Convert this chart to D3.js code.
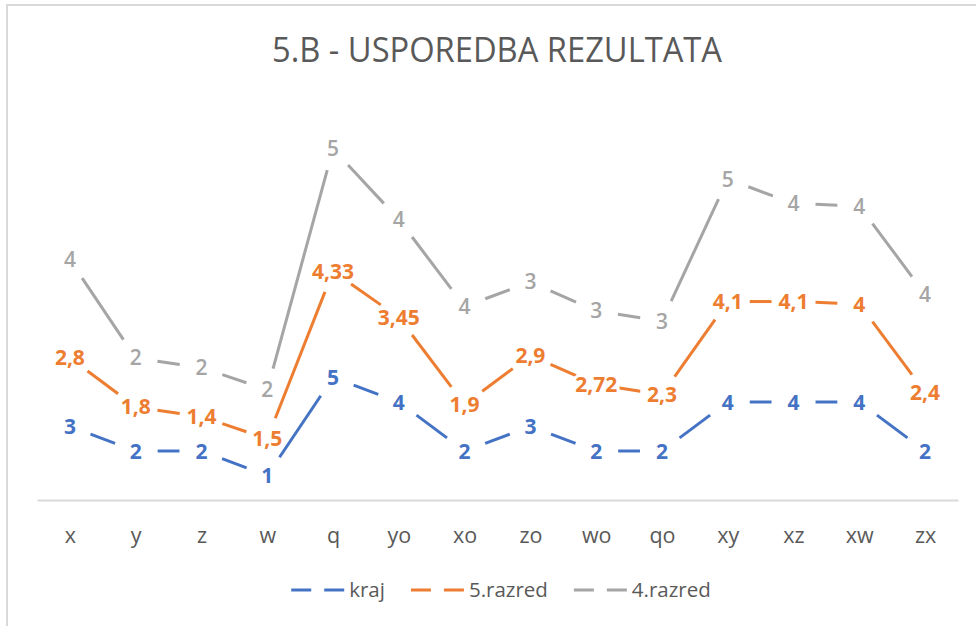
<!DOCTYPE html>
<html lang="hr">
<head>
  <meta charset="UTF-8"/>
  <title>5.B - usporedba rezultata</title>
  <script src="https://d3js.org/d3.v7.min.js"></script>
  <style>
    body { margin: 0; background: #fff; }
    svg text { font-family: "Open Sans", "Noto Sans", sans-serif; }
  </style>
</head>
<body>
<script>

var w = 976;
var h = 626;

// categories and series (stacked line chart, values as shown in labels)
var categories = ["x", "y", "z", "w", "q", "yo", "xo", "zo", "wo", "qo", "xy", "xz", "xw", "zx"];
var kraj     = [3, 2, 2, 1, 5, 4, 2, 3, 2, 2, 4, 4, 4, 2];
var razred5  = [2.8, 1.8, 1.4, 1.5, 4.33, 3.45, 1.9, 2.9, 2.72, 2.3, 4.1, 4.1, 4, 2.4];
var razred4  = [4, 2, 2, 2, 5, 4, 4, 3, 3, 3, 5, 4, 4, 4];
var seriesNames = ["kraj", "5.razred", "4.razred"];
var yMax = 16;

var colors = ["#4472C4", "#ED7D31", "#A5A5A5"];
var labelWeights = ["bold", "bold", "600"];

var svg = d3.select("body")
            .append("svg")
            .attr("width", w)
            .attr("height", h);

// chart border (cropped on right and bottom)
svg.append("rect")
   .attr("x", 7)
   .attr("y", 5)
   .attr("width", 1100)
   .attr("height", 800)
   .attr("fill", "#fff")
   .attr("stroke", "#d9d9d9")
   .attr("stroke-width", 2);

svg.append("text")
   .attr("x", 497)
   .attr("y", 62)
   .attr("text-anchor", "middle")
   .attr("font-size", 34)
   .attr("fill", "#595959")
   .attr("textLength", 450)
   .attr("lengthAdjust", "spacingAndGlyphs")
   .text("5.B - USPOREDBA REZULTATA");

var x = d3.scalePoint()
          .domain(categories)
          .range([37, 958])
          .padding(0.5);

var y = d3.scaleLinear()
          .domain([0, yMax])
          .range([500, 108]);

// x axis
var xAxis = d3.axisBottom(x).tickSize(0).tickPadding(0);
var gx = svg.append("g")
            .attr("transform", "translate(0,500)")
            .call(xAxis);
gx.select(".domain")
  .attr("stroke", "#d9d9d9")
  .attr("stroke-width", 2);
gx.selectAll("text")
  .attr("font-family", "'Open Sans', sans-serif")
  .attr("font-size", 21.5)
  .attr("fill", "#595959")
  .attr("dy", null)
  .attr("y", 43);

// stack the series
var raw = [kraj, razred5, razred4];
var stacked = [];
var running = categories.map(function() { return 0; });
raw.forEach(function(vals, s) {
  var pts = vals.map(function(v, i) {
    running[i] += v;
    return { cat: categories[i], value: v, total: running[i] };
  });
  stacked.push(pts);
});

// lines: each segment stops short of the points (labels sit on the points)
var gap = 22;
stacked.forEach(function(pts, s) {
  var segs = [];
  for (var i = 0; i < pts.length - 1; i++) {
    var x1 = x(pts[i].cat), y1 = y(pts[i].total);
    var x2 = x(pts[i + 1].cat), y2 = y(pts[i + 1].total);
    var dx = x2 - x1, dy = y2 - y1;
    var len = Math.sqrt(dx * dx + dy * dy);
    var ux = dx / len, uy = dy / len;
    segs.push([x1 + ux * gap, y1 + uy * gap, x2 - ux * gap, y2 - uy * gap]);
  }
  svg.append("g")
     .selectAll("line")
     .data(segs)
     .enter()
     .append("line")
     .attr("x1", function(d) { return d[0]; })
     .attr("y1", function(d) { return d[1]; })
     .attr("x2", function(d) { return d[2]; })
     .attr("y2", function(d) { return d[3]; })
     .attr("stroke", colors[s])
     .attr("stroke-width", 3);
});

// data labels
var fmt = function(v) { return String(v).replace(".", ","); };
stacked.forEach(function(pts, s) {
  svg.append("g")
     .selectAll("text")
     .data(pts)
     .enter()
     .append("text")
     .attr("x", function(d) { return x(d.cat); })
     .attr("y", function(d) { return y(d.total) + 7.5; })
     .attr("text-anchor", "middle")
     .attr("font-size", 21)
     .attr("font-weight", labelWeights[s])
     .attr("fill", colors[s])
     .attr("stroke", "#fff")
     .attr("stroke-width", 6)
     .attr("paint-order", "stroke")
     .text(function(d) { return fmt(d.value); });
});

// legend
var legend = svg.append("g");
var items = legend.selectAll("g")
                  .data(seriesNames)
                  .enter()
                  .append("g");
items.each(function(d, i) {
  var g = d3.select(this);
  g.append("line").attr("x1", 0).attr("x2", 20).attr("y1", 0).attr("y2", 0)
   .attr("stroke", colors[i]).attr("stroke-width", 3);
  g.append("line").attr("x1", 33).attr("x2", 53).attr("y1", 0).attr("y2", 0)
   .attr("stroke", colors[i]).attr("stroke-width", 3);
  g.append("text")
   .attr("x", 58)
   .attr("y", 7)
   .attr("font-size", 20.5)
   .attr("fill", "#595959")
   .text(d);
});
var pos = 0;
var offsets = [];
items.each(function(d, i) {
  offsets.push(pos);
  pos += 58 + this.querySelector("text").getComputedTextLength() + 26;
});
var total = pos - 26;
var startX = 501 - total / 2;
items.attr("transform", function(d, i) {
  return "translate(" + (startX + offsets[i]) + ",590)";
});

</script>
</body>
</html>
